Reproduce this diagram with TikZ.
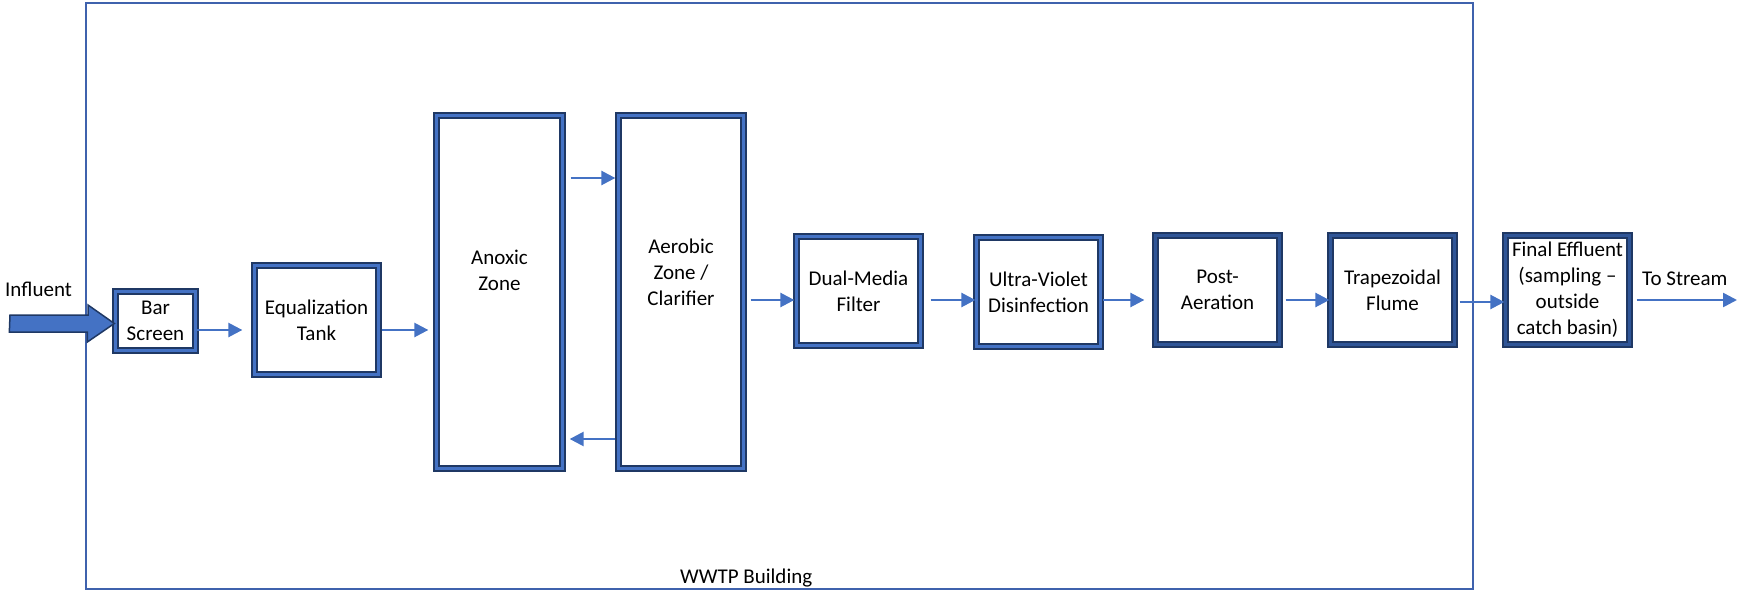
\documentclass[tikz,border=0pt]{standalone}
\usepackage{fontspec}
\setmainfont{Carlito}
\usetikzlibrary{arrows.meta,calc}
\definecolor{navy}{HTML}{1F3864}
\definecolor{midblue}{HTML}{4472C4}
\definecolor{darkmid}{HTML}{2F5597}
\definecolor{bldg}{HTML}{3F62AD}
\tikzset{
  txt/.style={font=\fontsize{21}{26}\selectfont, inner sep=0pt},
  stage/.style={draw=navy, line width=2.3pt, double=midblue, double distance=2.6pt,
    fill=white, inner sep=0pt, align=center, font=\fontsize{21}{26}\selectfont},
  stagedark/.style={stage, double=darkmid},
  flow/.style={draw=midblue, line width=2.5pt, -{Triangle[length=14pt,width=14pt]}},
  building/.style={draw=bldg, line width=2.5pt},
  blockarrow/.style={draw=navy, line width=1.5pt, fill=midblue, line join=miter}
}
\begin{document}
\begin{tikzpicture}[x=1pt,y=-1pt]
\useasboundingbox (0,0) rectangle (1742,596);
% building
\node[building, draw, minimum width=1387pt, minimum height=586pt, inner sep=0pt] (bldg) at (779.5,296) {};
\node[txt, anchor=base west] (bldglabel) at (680,583) {WWTP Building};
% stages
\node[stage, minimum width=80pt, minimum height=59pt] (bar) at (155.5,321) {Bar\\Screen};
\node[stage, minimum width=124pt, minimum height=109pt] (eq) at (316.5,320) {Equalization\\Tank};
\node[stage, minimum width=126pt, minimum height=353pt] (anox) at (499.5,292) {};
\node[txt, align=center] (anoxt) at (499.5,270) {Anoxic\\Zone};
\node[stage, minimum width=125pt, minimum height=353pt] (aer) at (681,292) {};
\node[txt, align=center] (aert) at (681,272) {Aerobic\\Zone /\\Clarifier};
\node[stage, minimum width=124pt, minimum height=109pt] (dual) at (858.5,291) {Dual-Media\\Filter};
\node[stage, minimum width=124pt, minimum height=109pt] (uv) at (1038.5,292) {Ultra-Violet\\Disinfection};
\node[stagedark, minimum width=124pt, minimum height=109pt] (post) at (1217.5,290) {Post-\\Aeration};
\node[stagedark, minimum width=124pt, minimum height=109pt] (trap) at (1392.5,290) {Trapezoidal\\Flume};
\node[stagedark, minimum width=124pt, minimum height=109pt] (final) at (1567.5,290) {Final Effluent\\(sampling –\\outside\\catch basin)};
% influent
\node[txt, anchor=base west] (infl) at (5,296) {Influent};
\coordinate (inflstart) at (10,323.5);
\draw[blockarrow] (inflstart) ++(0,-8.5) -- ++(78,0) -- ++(0,-10) -- (bar.west |- 0,323.5)
  -- ++(-27,18.5) -- ++(0,-10) -- ++(-78,0) -- cycle;
% flows
\draw[flow, shorten <=-1pt, shorten >=11pt] (bar.east |- 0,330) -- (eq.west |- 0,330);
\draw[flow, shorten <=2pt, shorten >=7pt] (eq.east |- 0,330) -- (anox.west |- 0,330);
\draw[flow, shorten <=7pt, shorten >=2pt] (anox.east |- 0,178) -- (aer.west |- 0,178);
\draw[flow, shorten <=2pt, shorten >=6pt] (aer.west |- 0,439) -- (anox.east |- 0,439);
\draw[flow, shorten <=6pt, shorten >=1pt] (aer.east |- 0,300) -- (dual.west |- 0,300);
\draw[flow, shorten <=9pt, shorten >=0pt] (dual.east |- 0,300) -- (uv.west |- 0,300);
\draw[flow, shorten <=1pt, shorten >=10pt] (uv.east |- 0,300) -- (post.west |- 0,300);
\draw[flow, shorten <=5pt, shorten >=0pt] (post.east |- 0,300) -- (trap.west |- 0,300);
\draw[flow, shorten <=4pt, shorten >=0pt] (trap.east |- 0,302) -- (final.west |- 0,302);
\coordinate (stream) at (1737,300);
\draw[flow, shorten <=6pt] (final.east |- stream) -- (stream);
\node[txt, anchor=base west] (streamlabel) at (1642,285) {To Stream};
\end{tikzpicture}
\end{document}
